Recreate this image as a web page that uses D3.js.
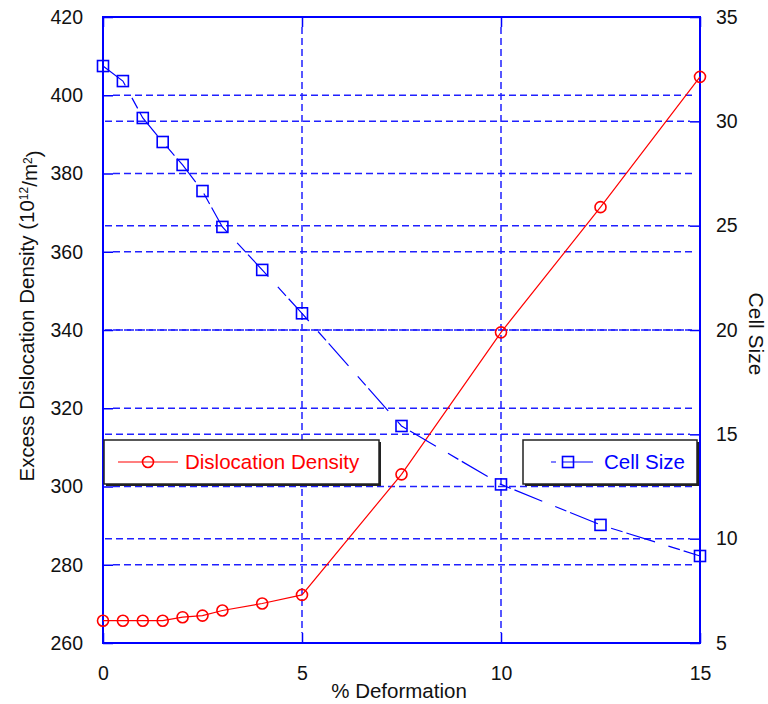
<!DOCTYPE html>
<html>
<head>
<meta charset="utf-8">
<script src="https://cdn.jsdelivr.net/npm/d3@7"></script>
<style>
  html, body { margin: 0; padding: 0; background: #fff; }
  svg { display: block; font-family: "Liberation Sans", Arial, sans-serif; }
</style>
</head>
<body>
<svg id="chart" width="768" height="704"></svg>
<script>
const deformation = [0, 0.5, 1, 1.5, 2, 2.5, 3, 4, 5, 7.5, 10, 12.5, 15];
const dislocationDensity = [265.7, 265.7, 265.7, 265.7, 266.6, 267.0, 268.3, 270.1, 272.3, 303.1, 339.4, 371.4, 404.7];
const cellSize = [32.65, 31.93, 30.16, 29.01, 27.91, 26.66, 24.94, 22.88, 20.8, 15.4, 12.6, 10.66, 9.17];

const xTicks = [0, 5, 10, 15];
const yLeftTicks = [260, 280, 300, 320, 340, 360, 380, 400, 420];
const yRightTicks = [5, 10, 15, 20, 25, 30, 35];

const xLabel = "% Deformation";
const yRightLabel = "Cell Size";
const seriesNames = ["Dislocation Density", "Cell Size"];

const W = 768, H = 704;
const m = { left: 103, right: 68, top: 17, bottom: 61 };
const iw = W - m.left - m.right, ih = H - m.top - m.bottom;

const blue = "#0000ff", gridBlue = "#2020ff", red = "#ff0000";

const svg = d3.select("#chart");
const g = svg.append("g").attr("transform", `translate(${m.left},${m.top})`);

const x = d3.scaleLinear().domain([0, 15]).range([0, iw]);
const yL = d3.scaleLinear().domain([260, 420]).range([ih, 0]);
const yR = d3.scaleLinear().domain([5, 35]).range([ih, 0]);

// grid lines
const grid = g.append("g").attr("stroke", gridBlue).attr("stroke-width", 1.5).attr("stroke-dasharray", "7,4").attr("fill", "none");
yLeftTicks.filter(v => v > 260 && v < 420).forEach(v => {
  grid.append("line").attr("x1", 10).attr("x2", iw - 4).attr("y1", yL(v)).attr("y2", yL(v));
});
yRightTicks.filter(v => v > 5 && v < 35).forEach(v => {
  grid.append("line").attr("x1", 2).attr("x2", iw - 10).attr("y1", yR(v)).attr("y2", yR(v));
});
xTicks.filter(v => v > 0 && v < 15).forEach(v => {
  grid.append("line").attr("x1", x(v)).attr("x2", x(v)).attr("y1", 10).attr("y2", ih - 10);
});

// axes
function styleAxis(sel) {
  sel.select(".domain").remove();
  sel.selectAll(".tick line").attr("stroke", blue).attr("stroke-width", 1.5);
  sel.selectAll(".tick text").attr("fill", "#111").style("font-size", "19.5px").style("font-family", "Liberation Sans, Arial, sans-serif");
}
g.append("g").call(d3.axisLeft(yL).tickValues(yLeftTicks).tickSize(-10).tickPadding(20).tickFormat(d3.format("d"))).call(styleAxis);
g.append("g").attr("transform", `translate(${iw},0)`).call(d3.axisRight(yR).tickValues(yRightTicks).tickSize(-10).tickPadding(16).tickFormat(d3.format("d"))).call(styleAxis);
g.append("g").attr("transform", `translate(0,${ih})`).call(d3.axisBottom(x).tickValues(xTicks).tickSize(-10).tickPadding(23).tickFormat(d3.format("d"))).call(styleAxis);
g.append("g").call(d3.axisTop(x).tickValues(xTicks).tickSize(-10).tickFormat("")).call(styleAxis);

// frame
g.append("rect").attr("x", 0).attr("y", 0).attr("width", iw).attr("height", ih)
  .attr("fill", "none").attr("stroke", blue).attr("stroke-width", 2);

// data
const dd = deformation.map((d, i) => ({ x: d, y: dislocationDensity[i] }));
const cs = deformation.map((d, i) => ({ x: d, y: cellSize[i] }));

g.append("path").datum(dd).attr("fill", "none").attr("stroke", red).attr("stroke-width", 1.2)
  .attr("d", d3.line().x(d => x(d.x)).y(d => yL(d.y)));
g.append("path").datum(cs).attr("fill", "none").attr("stroke", blue).attr("stroke-width", 1.2)
  .attr("stroke-dasharray", "30,14,12,4")
  .attr("d", d3.line().x(d => x(d.x)).y(d => yR(d.y)));

g.append("g").selectAll("circle").data(dd).join("circle")
  .attr("cx", d => x(d.x)).attr("cy", d => yL(d.y)).attr("r", 5.5)
  .attr("fill", "none").attr("stroke", red).attr("stroke-width", 1.6);
g.append("g").selectAll("rect").data(cs).join("rect")
  .attr("x", d => x(d.x) - 5.5).attr("y", d => yR(d.y) - 5.5).attr("width", 11).attr("height", 11)
  .attr("fill", "none").attr("stroke", blue).attr("stroke-width", 1.6);

// legends
function legend(bx, by, bw, bh, name, color, marker, lx1, lx2, mx, tx) {
  const lg = svg.append("g");
  lg.append("rect").attr("x", bx + 2).attr("y", by + 2).attr("width", bw).attr("height", bh).attr("fill", "#222");
  lg.append("rect").attr("x", bx).attr("y", by).attr("width", bw).attr("height", bh)
    .attr("fill", "#fff").attr("stroke", "#222").attr("stroke-width", 1.5);
  const cy = by + bh / 2;
  lg.append("line").attr("x1", lx1).attr("x2", lx2).attr("y1", cy).attr("y2", cy)
    .attr("stroke", color).attr("stroke-width", 1.2)
    .attr("stroke-dasharray", marker === "square" ? "5,7,30" : null);
  if (marker === "circle") {
    lg.append("circle").attr("cx", mx).attr("cy", cy).attr("r", 5.5).attr("fill", "none").attr("stroke", color).attr("stroke-width", 1.6);
  } else {
    lg.append("rect").attr("x", mx - 5.5).attr("y", cy - 5.5).attr("width", 11).attr("height", 11).attr("fill", "none").attr("stroke", color).attr("stroke-width", 1.6);
  }
  lg.append("text").attr("x", tx).attr("y", cy).attr("dy", "0.36em").attr("fill", color)
    .style("font-size", "20.5px").text(name);
}
legend(104, 440, 275, 44, seriesNames[0], red, "circle", 118, 178, 148, 185);
legend(523, 440, 174, 44, seriesNames[1], blue, "square", 551, 594, 568, 604);

// axis titles
const yl = svg.append("text").attr("transform", `translate(34,316) rotate(-90)`).attr("text-anchor", "middle")
  .attr("fill", "#111").style("font-size", "20.5px");
yl.append("tspan").text("Excess Dislocation Density (10");
yl.append("tspan").attr("dy", "-0.5em").style("font-size", "12px").text("12");
yl.append("tspan").attr("dy", "0.45em").text("/m");
yl.append("tspan").attr("dy", "-0.45em").style("font-size", "12px").text("2");
yl.append("tspan").attr("dy", "0.45em").text(")");

svg.append("text").attr("transform", `translate(749,334) rotate(90)`).attr("text-anchor", "middle")
  .attr("fill", "#111").style("font-size", "21px").text(yRightLabel);
svg.append("text").attr("x", 399).attr("y", 698).attr("text-anchor", "middle")
  .attr("fill", "#111").style("font-size", "20.5px").text(xLabel);
</script>
</body>
</html>
